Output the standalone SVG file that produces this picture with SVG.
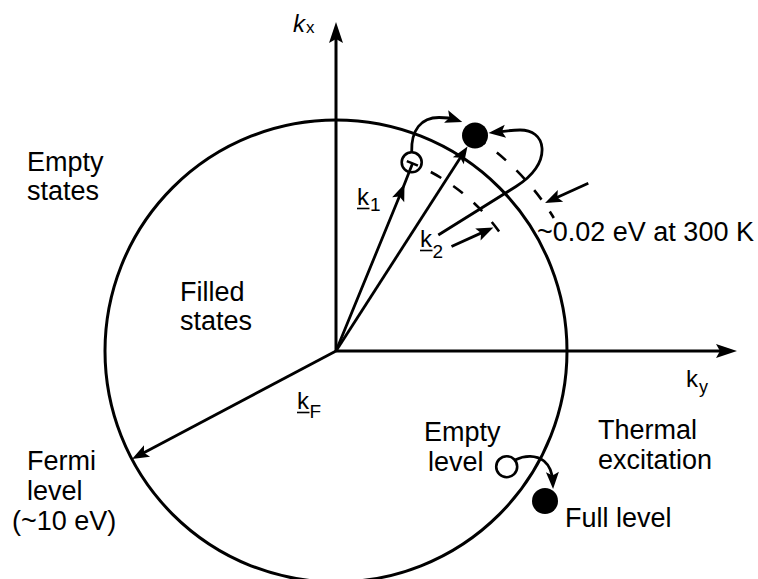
<svg xmlns="http://www.w3.org/2000/svg" width="758" height="579" viewBox="0 0 758 579">
<style>
text{font-family:"Liberation Sans",Arial,Helvetica,sans-serif;fill:#000}
.lbl{font-size:27px}
.k{font-size:24px}
.sub{font-size:19px}
.ln{fill:none;stroke:#000;stroke-width:3}
.vec{fill:none;stroke:#000;stroke-width:2.8}
.dash{fill:none;stroke:#000;stroke-width:2.6}
.ul{stroke:#000;stroke-width:1.6}
</style>
<defs>
<marker id="ah" markerUnits="userSpaceOnUse" viewBox="0 0 20 14" markerWidth="20" markerHeight="14" refX="11" refY="7" orient="auto"><path d="M1,0.5 L18,7 L1,13.5 L4.5,7 Z"/></marker>
<marker id="ahTip" markerUnits="userSpaceOnUse" viewBox="0 0 20 14" markerWidth="20" markerHeight="14" refX="18" refY="7" orient="auto"><path d="M1,0.5 L18,7 L1,13.5 L4.5,7 Z"/></marker>
<marker id="ahBig" markerUnits="userSpaceOnUse" viewBox="0 0 24 16" markerWidth="24" markerHeight="16" refX="16" refY="8" orient="auto"><path d="M1,1 L22,8 L1,15 L5,8 Z"/></marker>
</defs>
<rect width="758" height="579" fill="#fff"/>

<g id="fermi-sphere">
<circle cx="336" cy="351" r="231" class="ln"/>
</g>

<g id="connectors">
<line class="ln" x1="336" y1="351" x2="336" y2="28" marker-end="url(#ahBig)"/>
<line class="ln" x1="336" y1="351" x2="731" y2="351" marker-end="url(#ahBig)"/>
<line class="vec" x1="336" y1="351" x2="138.2" y2="455.7" marker-end="url(#ah)"/>
<line class="vec" x1="336" y1="351" x2="463.7" y2="152.4" marker-end="url(#ah)"/>
<polyline class="vec" points="336,351 404.5,184 412.5,163.5" marker-mid="url(#ahTip)"/>
<path class="vec" d="M411.7,152 C411,130 421,117.5 439,117.5 C446,117.5 452,118.5 455.6,119.7" marker-end="url(#ah)"/>
<path class="vec" d="M438.3,235 L516,186.5 C533,176 543,162 542,148 C541,136 532,130 520,130 C510,130 502,131.6 495.5,132.3" marker-end="url(#ah)"/>
<path class="dash" d="M406.8,161.1 A203,203 0 0 1 499.7,232.3" stroke-dasharray="12 14.4"/>
<path class="dash" d="M474.2,136.1 A256,256 0 0 1 553.8,218" stroke-dasharray="12 14.5" stroke-dashoffset="-1.5"/>
<line class="vec" x1="588.3" y1="183.3" x2="551.4" y2="200.1" marker-end="url(#ah)"/>
<line class="vec" x1="451.5" y1="246.5" x2="487" y2="230.4" marker-end="url(#ah)"/>
<path class="vec" d="M515,460 C525,455 536,455 544,461 C550,466 552.5,474 552.8,482" marker-end="url(#ah)"/>
</g>

<g id="state-k1"><circle cx="411.7" cy="162.3" r="10" fill="none" stroke="#000" stroke-width="2.6"/></g>
<g id="state-k2"><circle cx="475" cy="135.5" r="13" fill="#000"/></g>
<g id="empty-level-state"><circle cx="506.7" cy="466.7" r="10.5" fill="none" stroke="#000" stroke-width="2.6"/></g>
<g id="full-level-state"><circle cx="545" cy="501" r="13" fill="#000"/></g>

<g id="axis-labels">
<text x="293" y="32" font-size="24" font-style="italic">k</text>
<text x="306" y="33" font-size="17">x</text>
<text x="686" y="387" font-size="24">k</text>
<text x="699" y="393" font-size="18">y</text>
</g>

<g id="vector-labels">
<text x="357" y="205" class="k">k</text><line class="ul" x1="357" y1="208.5" x2="369.5" y2="208.5"/>
<text x="370" y="211" class="sub">1</text>
<text x="420" y="247" class="k">k</text><line class="ul" x1="420" y1="250.5" x2="432.5" y2="250.5"/>
<text x="432.5" y="258" class="sub">2</text>
<text x="297" y="409" class="k">k</text><line class="ul" x1="297" y1="412.5" x2="309.5" y2="412.5"/>
<text x="309.5" y="418" class="sub">F</text>
</g>

<g id="region-labels">
<text class="lbl" x="27" y="171">Empty</text>
<text class="lbl" x="27" y="200">states</text>
<text class="lbl" x="180" y="301">Filled</text>
<text class="lbl" x="180" y="330">states</text>
<text class="lbl" x="27" y="470">Fermi</text>
<text class="lbl" x="27" y="500">level</text>
<text class="lbl" x="12" y="530">(~10 eV)</text>
<text class="lbl" x="537" y="241">~0.02 eV at 300 K</text>
<text class="lbl" x="424" y="441">Empty</text>
<text class="lbl" x="428" y="471">level</text>
<text class="lbl" x="598" y="439">Thermal</text>
<text class="lbl" x="598" y="469">excitation</text>
<text class="lbl" x="565" y="527">Full level</text>
</g>
</svg>
